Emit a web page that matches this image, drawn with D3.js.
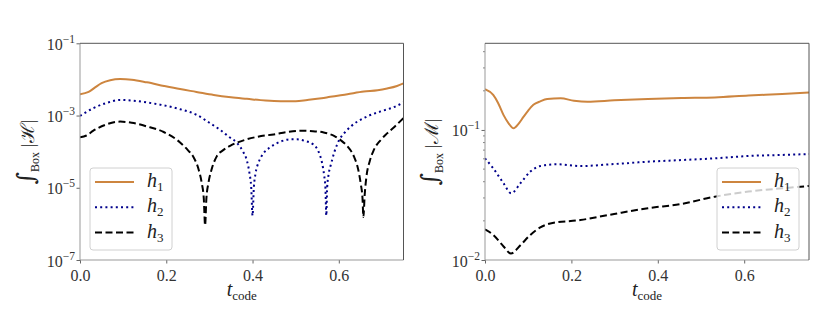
<!DOCTYPE html>
<html><head><meta charset="utf-8">
<script src="https://cdn.jsdelivr.net/npm/d3@7"></script>
<style>body{margin:0;background:#fff}svg{display:block}text{font-family:"Liberation Serif","DejaVu Serif",serif}</style>
</head><body><svg id="c" width="830" height="332"></svg>
<script>
// ---- data ----
const seriesNames = ["h1","h2","h3"];
const colors = ["#CD853F","#00008B","#000000"];

const tL1 = [0,0.02,0.035,0.05,0.07,0.093,0.12,0.155,0.195,0.232,0.27,0.31,0.35,0.387,0.43,0.465,0.5,0.527,0.56,0.58,0.62,0.658,0.69,0.712,0.735,0.75];
const vL1 = [3.9e-3,4.5e-3,6.0e-3,7.9e-3,9.5e-3,1.02e-2,9.8e-3,8.3e-3,6.6e-3,5.4e-3,4.5e-3,3.7e-3,3.2e-3,2.9e-3,2.6e-3,2.5e-3,2.5e-3,2.7e-3,3.0e-3,3.3e-3,3.9e-3,4.6e-3,5.0e-3,5.6e-3,6.6e-3,7.8e-3];

const tL2 = [0,0.031,0.06,0.093,0.12,0.155,0.186,0.232,0.27,0.3,0.325,0.345,0.364,0.378,0.387,0.393,0.397,0.4,0.403,0.407,0.414,0.425,0.44,0.465,0.49,0.503,0.52,0.542,0.553,0.561,0.566,0.569,0.571,0.573,0.576,0.582,0.59,0.6,0.615,0.627,0.658,0.697,0.725,0.75];
const vL2 = [9.8e-4,1.6e-3,2.2e-3,2.7e-3,2.6e-3,2.3e-3,2.0e-3,1.5e-3,1.05e-3,6.3e-4,4.0e-4,2.6e-4,1.74e-4,1.0e-4,5.6e-5,2.5e-5,1.0e-5,1.7e-6,1.0e-5,2.5e-5,5.0e-5,8.9e-5,1.3e-4,1.9e-4,2.2e-4,2.2e-4,2.0e-4,1.55e-4,1.0e-4,5.0e-5,2.2e-5,1.0e-5,1.7e-6,1.0e-5,2.2e-5,4.5e-5,1.0e-4,2.0e-4,3.5e-4,4.9e-4,8.5e-4,1.3e-3,1.66e-3,2.3e-3];

const tL3 = [0,0.015,0.031,0.06,0.093,0.12,0.155,0.194,0.232,0.25,0.263,0.275,0.282,0.287,0.29,0.293,0.298,0.305,0.317,0.332,0.348,0.387,0.42,0.449,0.48,0.511,0.54,0.565,0.59,0.604,0.62,0.635,0.645,0.651,0.655,0.657,0.66,0.664,0.672,0.681,0.697,0.712,0.73,0.75];
const vL3 = [2.5e-4,2.8e-4,3.8e-4,5.6e-4,6.8e-4,6.3e-4,5.0e-4,3.5e-4,1.8e-4,1.1e-4,7.1e-5,3.2e-5,1.4e-5,5.0e-6,9.1e-7,5.0e-6,1.4e-5,3.2e-5,7.4e-5,1.1e-4,1.45e-4,2.2e-4,2.7e-4,3.0e-4,3.5e-4,3.8e-4,3.7e-4,3.4e-4,2.7e-4,2.1e-4,1.4e-4,7.4e-5,3.2e-5,1.26e-5,5.0e-6,1.55e-6,6.3e-6,2.0e-5,5.6e-5,1.1e-4,2.1e-4,3.2e-4,5.0e-4,8.5e-4];

const tR1 = [0,0.019,0.03,0.043,0.055,0.066,0.078,0.089,0.1,0.112,0.128,0.144,0.175,0.206,0.237,0.299,0.377,0.455,0.532,0.61,0.688,0.75];
const vR1 = [0.206,0.186,0.162,0.130,0.112,0.103,0.112,0.126,0.141,0.156,0.166,0.173,0.175,0.168,0.165,0.169,0.173,0.176,0.178,0.184,0.189,0.194];

const tR2 = [0,0.019,0.043,0.0605,0.082,0.105,0.128,0.167,0.221,0.299,0.377,0.455,0.532,0.61,0.688,0.75];
const vR2 = [0.0605,0.0507,0.0389,0.0326,0.0389,0.0479,0.0528,0.0545,0.0528,0.0547,0.0570,0.0587,0.0605,0.0631,0.0643,0.0653];

const tR3 = [0,0.019,0.043,0.06,0.082,0.105,0.128,0.151,0.221,0.299,0.377,0.455,0.532,0.61,0.688,0.75];
const vR3 = [0.0172,0.0156,0.0127,0.0112,0.0130,0.0156,0.0178,0.0191,0.0203,0.0226,0.0250,0.0270,0.0307,0.0336,0.0356,0.0371];

const xTicks = [0,0.2,0.4,0.6];
const xTickLabels = ["0.0","0.2","0.4","0.6"];
const yTicksL = [1e-1,1e-3,1e-5,1e-7];
const yTickExpL = ["−1","−3","−5","−7"];
const yTicksR = [1e-1,1e-2];
const yTickExpR = ["−1","−2"];

// ---- drawing ----
const svg = d3.select("#c");
const dashes = [null,"2,3.2","7,3.5"];
const FONT = "'Liberation Serif','DejaVu Serif',serif";

function panel(cfg){
  const {x,y,series,yTicks,yExp,minor,ylabel,legend} = cfg;
  const g = svg.append("g");
  const [x0,x1] = x.range(), [y0,y1] = y.range();
  const clipId = "clip"+Math.round(x0);
  svg.append("clipPath").attr("id",clipId).append("rect").attr("x",x0).attr("y",y1).attr("width",x1-x0).attr("height",y0-y1);

  // lines
  const line = d3.line().x(d=>x(d[0])).y(d=>y(d[1])).curve(d3.curveMonotoneX);
  series.forEach((s,i)=>{
    g.append("path").datum(d3.zip(s[0],s[1])).attr("d",line)
      .attr("fill","none").attr("stroke",colors[i]).attr("stroke-width",2)
      .attr("stroke-dasharray",dashes[i]).attr("clip-path",`url(#${clipId})`);
  });

  // axes
  const ax = d3.axisBottom(x).tickValues(xTicks).tickSize(3.5).tickFormat((d,i)=>xTickLabels[i]);
  const gx = g.append("g").attr("transform",`translate(0,${y0})`).call(ax).attr("font-family",FONT);
  gx.select(".domain").remove();
  gx.selectAll("line").attr("stroke","#666");
  gx.selectAll("text").attr("font-size",16).attr("fill","#333").attr("dy",null).attr("y",21);

  const ay = d3.axisLeft(y).tickValues(yTicks).tickSize(3.5).tickFormat("");
  const gy = g.append("g").attr("transform",`translate(${x0},0)`).call(ay).attr("font-family",FONT);
  gy.select(".domain").remove();
  gy.selectAll("line").attr("stroke","#666");
  gy.selectAll(".tick").each(function(d,i){
    const t = d3.select(this).append("text").attr("x",-5).attr("y",6).attr("text-anchor","end").attr("fill","#333");
    t.append("tspan").attr("font-size",16).text("10");
    t.append("tspan").attr("font-size",11.5).attr("dy",-7).text(yExp[i]);
  });
  if(minor){
    const mv = [];
    const [d0,d1] = y.domain();
    for(let e=Math.floor(Math.log10(d0)); e<=Math.ceil(Math.log10(d1)); e++)
      for(let m=2;m<=9;m++){const v=m*Math.pow(10,e); if(v>d0&&v<d1) mv.push(v);}
    g.append("g").selectAll("line").data(mv).join("line")
      .attr("x1",x0).attr("x2",x0-2).attr("y1",d=>y(d)).attr("y2",d=>y(d)).attr("stroke","#666").attr("stroke-width",0.8);
  }

  // spines
  g.append("line").attr("x1",x0).attr("x2",x0).attr("y1",y1).attr("y2",y0).attr("stroke","#999").attr("stroke-width",1);
  g.append("line").attr("x1",x0).attr("x2",x1).attr("y1",y0).attr("y2",y0).attr("stroke","#999").attr("stroke-width",1);
  g.append("line").attr("x1",x1).attr("x2",x1).attr("y1",y1).attr("y2",y0).attr("stroke","#555").attr("stroke-width",1);
  g.append("line").attr("x1",x0).attr("x2",x1).attr("y1",y1).attr("y2",y1).attr("stroke","#555").attr("stroke-width",1);

  // x label
  const xl = g.append("text").attr("x",(x0+x1)/2).attr("y",296).attr("text-anchor","middle").attr("fill","#222");
  xl.append("tspan").attr("font-size",20).attr("font-style","italic").text("t");
  xl.append("tspan").attr("font-size",13).attr("dy",4).text("code");

  // y label
  const yl = g.append("text").attr("transform",`translate(${cfg.ylx},152) rotate(-90)`).attr("text-anchor","middle").attr("fill","#222");
  yl.append("tspan").attr("font-size",24).attr("font-family","DejaVu Serif").text("∫");
  yl.append("tspan").attr("font-size",12).attr("dy",5).text("Box");
  yl.append("tspan").attr("font-size",19).attr("dy",-5).text(" |");
  yl.append("tspan").attr("font-size",19).attr("font-family","DejaVu Serif").text(ylabel);
  yl.append("tspan").attr("font-size",19).text("|");

  // legend
  const lg = g.append("g");
  lg.append("rect").attr("x",legend.x).attr("y",168).attr("width",82).attr("height",82).attr("rx",3)
    .attr("fill","#fff").attr("fill-opacity",0.8).attr("stroke","#d0d0d0").attr("stroke-width",1);
  seriesNames.forEach((n,i)=>{
    const yy = 182 + i*25.3;
    lg.append("line").attr("x1",legend.x+5).attr("x2",legend.x+44).attr("y1",yy).attr("y2",yy)
      .attr("stroke",colors[i]).attr("stroke-width",2).attr("stroke-dasharray",dashes[i]);
    const t = lg.append("text").attr("x",legend.x+57).attr("y",yy+5).attr("fill","#222");
    t.append("tspan").attr("font-size",20).attr("font-style","italic").text("h");
    t.append("tspan").attr("font-size",13).attr("dy",4).text(n.slice(1));
  });
}

panel({
  x: d3.scaleLinear([0,0.75],[80,403.5]),
  y: d3.scaleLog([1e-7,1e-1],[260,43.3]),
  series: [[tL1,vL1],[tL2,vL2],[tL3,vL3]],
  yTicks: yTicksL, yExp: yTickExpL, minor:false,
  ylabel:"ℋ", ylx:34, legend:{x:90}
});
panel({
  x: d3.scaleLinear([0,0.75],[485,809]),
  y: d3.scaleLog([0.01,0.464],[260,43.3]),
  series: [[tR1,vR1],[tR2,vR2],[tR3,vR3]],
  yTicks: yTicksR, yExp: yTickExpR, minor:true,
  ylabel:"ℳ", ylx:438, legend:{x:717}
});
</script></body></html>
